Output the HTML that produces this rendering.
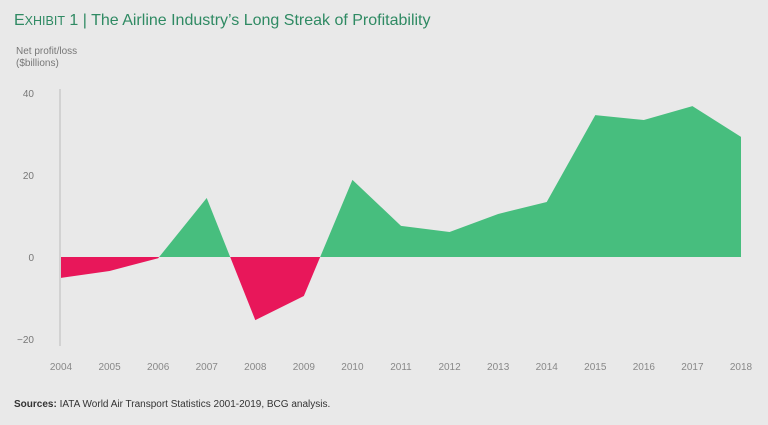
<!DOCTYPE html>
<html><head><meta charset="utf-8"><style>
html,body{margin:0;padding:0;background:#e9e9e9;}
body{width:768px;height:420px;overflow:hidden;font-family:"Liberation Sans",sans-serif;}
</style></head><body>
<svg id="chart" width="768" height="420" xmlns="http://www.w3.org/2000/svg">
<rect width="768" height="420" fill="#e9e9e9"/>
<text x="14" y="25" font-size="16" fill="#2f8a63"><tspan font-size="16">E</tspan><tspan font-size="12.5">XHIBIT</tspan> 1 | The Airline Industry’s Long Streak of Profitability</text>
<text x="16" y="54" font-size="10" fill="#777">Net profit/loss</text>
<text x="16" y="66" font-size="10" fill="#777">($billions)</text>
<g id="plot"></g>
<text x="14" y="407" font-size="10" fill="#333"><tspan font-weight="bold">Sources:</tspan> IATA World Air Transport Statistics 2001-2019, BCG analysis.</text>
</svg>
<script>
const years = [2004,2005,2006,2007,2008,2009,2010,2011,2012,2013,2014,2015,2016,2017,2018];
const profit = [-5.1,-3.4,-0.3,14.4,-15.4,-9.5,18.8,7.6,6.1,10.5,13.4,34.6,33.4,36.8,29.3];
const yTicks = [40,20,0,-20];
const tickLabels = ["40","20","0","\u221220"];
const NS="http://www.w3.org/2000/svg";
const x0=61,x1=741,yTop=93,yBot=339;
const xs=i=>x0+(x1-x0)*i/(years.length-1);
const ys=v=>yTop+(40-v)*(yBot-yTop)/60;
const g=document.getElementById('plot');
function mk(t,a){const e=document.createElementNS(NS,t);for(const k in a)e.setAttribute(k,a[k]);g.appendChild(e);return e;}
const z=ys(0);
// clip paths
const defs=mk('defs',{});
const cp=document.createElementNS(NS,'clipPath');cp.setAttribute('id','pos');
const r1=document.createElementNS(NS,'rect');r1.setAttribute('x',0);r1.setAttribute('y',0);r1.setAttribute('width',768);r1.setAttribute('height',z);cp.appendChild(r1);defs.appendChild(cp);
const cn=document.createElementNS(NS,'clipPath');cn.setAttribute('id','neg');
const r2=document.createElementNS(NS,'rect');r2.setAttribute('x',0);r2.setAttribute('y',z);r2.setAttribute('width',768);r2.setAttribute('height',420);cn.appendChild(r2);defs.appendChild(cn);
let pts=xs(0)+','+z+' ';
profit.forEach((v,i)=>{pts+=xs(i)+','+ys(v)+' ';});
pts+=xs(profit.length-1)+','+z;
const pa=mk('polygon',{points:pts,fill:'#47be7e','clip-path':'url(#pos)'});


const na=mk('polygon',{points:pts,fill:'#e8175a','clip-path':'url(#neg)'});


const ax=mk('line',{x1:60,x2:60,y1:89,y2:346,stroke:'#bbb','stroke-width':1});


yTicks.forEach((v,i)=>{const t=mk('text',{x:34,y:ys(v)+4,'font-size':10,fill:'#777','text-anchor':'end'});t.textContent=tickLabels[i];

});
years.forEach((yr,i)=>{const t=mk('text',{x:xs(i),y:370,'font-size':10,fill:'#888','text-anchor':'middle'});t.textContent=yr;

});
</script>
</body></html>
